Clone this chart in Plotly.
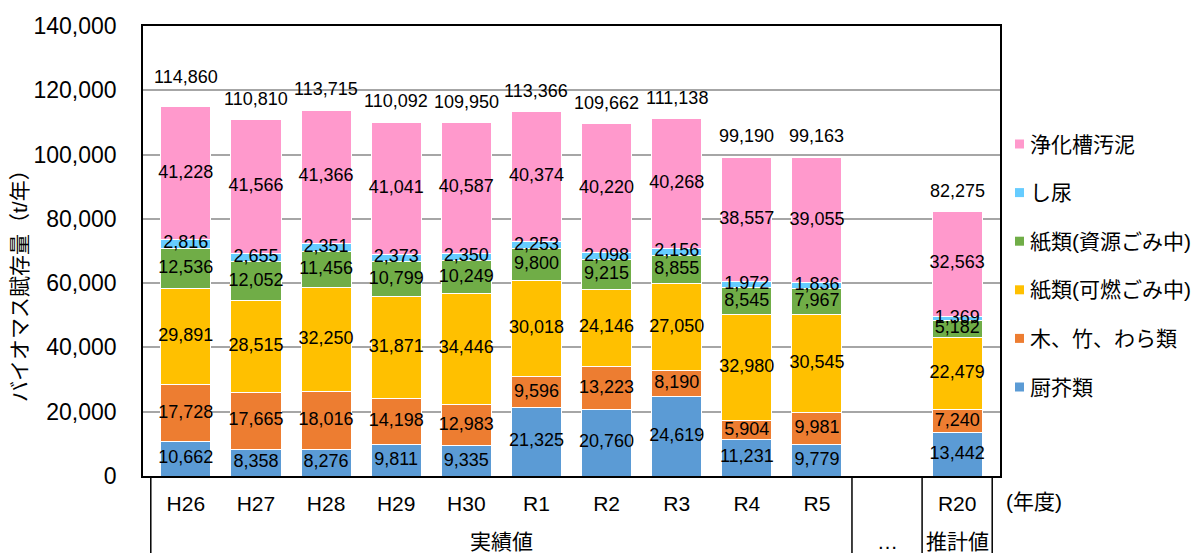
import plotly.graph_objects as go

# ---------------- data ----------------
categories = ["H26", "H27", "H28", "H29", "H30", "R1", "R2", "R3", "R4", "R5", " ", "R20"]
tick_labels = ["H26", "H27", "H28", "H29", "H30", "R1", "R2", "R3", "R4", "R5", "", "R20"]

series_names = ["厨芥類", "木、竹、わら類", "紙類(可燃ごみ中)", "紙類(資源ごみ中)", "し尿", "浄化槽汚泥"]
kitchen_waste = [10662, 8358, 8276, 9811, 9335, 21325, 20760, 24619, 11231, 9779, None, 13442]
wood_bamboo_straw = [17728, 17665, 18016, 14198, 12983, 9596, 13223, 8190, 5904, 9981, None, 7240]
paper_combustible = [29891, 28515, 32250, 31871, 34446, 30018, 24146, 27050, 32980, 30545, None, 22479]
paper_recyclable = [12536, 12052, 11456, 10799, 10249, 9800, 9215, 8855, 8545, 7967, None, 5182]
night_soil = [2816, 2655, 2351, 2373, 2350, 2253, 2098, 2156, 1972, 1836, None, 1369]
septic_sludge = [41228, 41566, 41366, 41041, 40587, 40374, 40220, 40268, 38557, 39055, None, 32563]
totals = [114860, 110810, 113715, 110092, 109950, 113366, 109662, 111138, 99190, 99163, None, 82275]

group_labels = ["実績値", "…", "推計値"]
y_title = "バイオマス賦存量（t/年）"
x_unit = "(年度)"

# ---------------- style ----------------
colors = ["#5B9BD5", "#ED7D31", "#FFC000", "#70AD47", "#66CCFF", "#FF99CC"]
FONT = "Arial, 'Liberation Sans', 'Noto Sans CJK JP', sans-serif"
series_values = [kitchen_waste, wood_bamboo_straw, paper_combustible,
                 paper_recyclable, night_soil, septic_sludge]

fig = go.Figure()

for name, vals, col in zip(series_names, series_values, colors):
    fig.add_trace(go.Bar(
        x=categories, y=vals, name=name,
        marker=dict(color=col, line=dict(color="white", width=1)),
        showlegend=False, hoverinfo="x+y+name",
    ))

# segment labels at the middle of each stacked segment
base = [0 if v is not None else None for v in kitchen_waste]
for vals in series_values:
    mids, texts, xs = [], [], []
    for i, v in enumerate(vals):
        if v is None:
            continue
        xs.append(categories[i])
        mids.append(base[i] + v / 2)
        texts.append(f"{v:,}")
        base[i] += v
    fig.add_trace(go.Scatter(
        x=xs, y=mids, text=texts, mode="text",
        textfont=dict(family=FONT, size=18, color="#000000"),
        showlegend=False, hoverinfo="skip", cliponaxis=False,
    ))

# total labels
label_shift = {"H26": 30}
for c, t in zip(categories, totals):
    if t is None:
        continue
    fig.add_annotation(
        x=c, y=t, text=f"{t:,}", showarrow=False, yanchor="middle",
        yshift=label_shift.get(c, 21),
        font=dict(family=FONT, size=18, color="#000000"),
    )

# plot area geometry (px)
L, R, T, B = 143, 1000, 26, 476
PW, PH = R - L, B - T


def px_x(x):
    return (x - L) / PW


def px_y(y):
    return (B - y) / PH


# table lines under the axis
for xv in [-0.5, 9.5, 10.5, 11.5]:
    fig.add_shape(type="line", xref="x", yref="paper",
                  x0=xv, x1=xv, y0=0, y1=px_y(553),
                  line=dict(color="#000000", width=1.5))

# second row group labels
for xv, txt in zip([4.5, 10, 11], group_labels):
    fig.add_annotation(x=xv, xref="x", y=px_y(541), yref="paper", text=txt,
                       xanchor="center", yanchor="middle",
                       showarrow=False, font=dict(family=FONT, size=21, color="#000000"))

fig.add_annotation(x=px_x(1004), xref="paper", y=px_y(502), yref="paper",
                   xanchor="left", yanchor="middle", text=x_unit, showarrow=False,
                   font=dict(family=FONT, size=21, color="#000000"))

# y-axis title
fig.add_annotation(x=px_x(19), xref="paper", y=px_y(281), yref="paper",
                   xanchor="center", yanchor="middle",
                   text=y_title, textangle=-90, showarrow=False,
                   font=dict(family=FONT, size=21, color="#000000"))

# manual legend (top item = last series)
leg_y0, leg_dy = 144, 48.6
for k, (name, col) in enumerate(zip(series_names[::-1], colors[::-1])):
    yc = leg_y0 + k * leg_dy
    fig.add_shape(type="rect", xref="paper", yref="paper",
                  x0=px_x(1015), x1=px_x(1024), y0=px_y(yc - 4.5), y1=px_y(yc + 4.5),
                  fillcolor=col, line=dict(width=0))
    fig.add_annotation(x=px_x(1028), xref="paper", y=px_y(yc), yref="paper",
                       xanchor="left", yanchor="middle", text=name, showarrow=False,
                       font=dict(family=FONT, size=21, color="#000000"))

fig.update_layout(
    width=1195, height=553,
    margin=dict(l=L, r=1195 - R, t=T, b=553 - B, autoexpand=False),
    barmode="stack", bargap=0.286,
    plot_bgcolor="white", paper_bgcolor="white",
    font=dict(family=FONT, color="#000000"),
    showlegend=False,
)
fig.update_xaxes(
    type="category", categoryorder="array", categoryarray=categories,
    tickvals=categories, ticktext=tick_labels,
    tickfont=dict(family=FONT, size=21, color="#000000"),
    showline=True, linecolor="#000000", linewidth=1.5, mirror=True,
    ticks="", showgrid=False, ticklabelstandoff=8, automargin=False,
)
fig.update_yaxes(
    range=[0, 140000], tickvals=list(range(0, 140001, 20000)), tickformat=",",
    tickfont=dict(family=FONT, size=23, color="#000000"),
    showline=True, linecolor="#000000", linewidth=1.5, mirror=True,
    showgrid=True, gridcolor="#A6A6A6", gridwidth=1.5,
    ticks="", ticklabelstandoff=20, zeroline=False, automargin=False,
)

fig.write_html("out.html", config={"displayModeBar": False},
               post_script="document.body.style.margin='0';document.body.style.padding='0';")
